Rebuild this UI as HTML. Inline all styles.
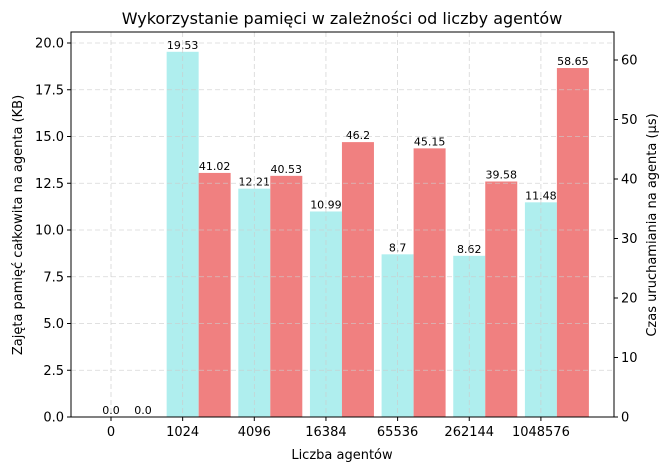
<!DOCTYPE html>
<html><head><meta charset="utf-8"><style>
body{margin:0;background:#fff;font-family:"Liberation Sans","DejaVu Sans",sans-serif}
</style></head><body>
<svg width="669" height="471" viewBox="0 0 669 471" xmlns="http://www.w3.org/2000/svg" font-family="DejaVu Sans, Liberation Sans, sans-serif">
<g id="bars"></g>
<g id="grid"></g>
<g id="axes"></g>
<text x="342" y="24" font-size="16" text-anchor="middle">Wykorzystanie pamięci w zależności od liczby agentów</text>
<text x="342" y="459" font-size="13" text-anchor="middle">Liczba agentów</text>
<text transform="translate(22,225) rotate(-90)" font-size="13" text-anchor="middle">Zajęta pamięć całkowita na agenta (KB)</text>
<text transform="translate(656,225) rotate(-90)" font-size="13" text-anchor="middle">Czas uruchamiania na agenta (µs)</text>
</svg>
<script>
const categories=["0","1024","4096","16384","65536","262144","1048576"];
const memory=[0.0,19.53,12.21,10.99,8.7,8.62,11.48];
const timeUs=[0.0,41.02,40.53,46.2,45.15,39.58,58.65];
const leftTicks=[0,2.5,5,7.5,10,12.5,15,17.5,20];
const rightTicks=[0,10,20,30,40,50,60];
const NS="http://www.w3.org/2000/svg";
const L=71,R=614,T=32,B=417;
const xPos=i=>111+i*71.65;
const yL=v=>B-v*18.7;
const yR=v=>B-v*5.95;
function mk(t,a,p){const e=document.createElementNS(NS,t);for(const k in a)e.setAttribute(k,a[k]);p.appendChild(e);return e;}
const bars=document.getElementById('bars'),grid=document.getElementById('grid'),axes=document.getElementById('axes');
categories.forEach((c,i)=>{
 const x=xPos(i);
 const b1=mk('rect',{x:x-16,y:yL(memory[i]),width:32,height:B-yL(memory[i]),fill:'#afeeee'},bars);
 
 
 const b2=mk('rect',{x:x+16,y:yR(timeUs[i]),width:32,height:B-yR(timeUs[i]),fill:'#f08080'},bars);
 
 
 const t1=mk('text',{x:x,y:yL(memory[i])-3,'font-size':11,'text-anchor':'middle'},bars);t1.textContent=memory[i].toFixed(memory[i]===0?1:undefined)==="0.0"?"0.0":String(memory[i]);
 
 
 const t2=mk('text',{x:x+32,y:yR(timeUs[i])-3,'font-size':11,'text-anchor':'middle'},bars);t2.textContent=timeUs[i]===0?"0.0":String(timeUs[i]);
 
 
 mk('line',{x1:x,x2:x,y1:T,y2:B,stroke:'#ccc','stroke-dasharray':'5,3','stroke-width':0.8,opacity:0.8},grid);
 mk('line',{x1:x,x2:x,y1:B,y2:B+4,stroke:'#000'},axes);
 const tl=mk('text',{x:x,y:B+19,'font-size':13,'text-anchor':'middle'},axes);tl.textContent=c;
 
 
});
leftTicks.forEach(v=>{const y=yL(v);
 mk('line',{x1:L,x2:R,y1:y,y2:y,stroke:'#ccc','stroke-dasharray':'5,3','stroke-width':0.8,opacity:0.8},grid);
 mk('line',{x1:L-4,x2:L,y1:y,y2:y,stroke:'#000'},axes);
 const t=mk('text',{x:L-7,y:y+4.5,'font-size':13,'text-anchor':'end'},axes);t.textContent=v.toFixed(1);
 
 
});
rightTicks.forEach(v=>{const y=yR(v);
 mk('line',{x1:R,x2:R+4,y1:y,y2:y,stroke:'#000'},axes);
 const t=mk('text',{x:R+7,y:y+4.5,'font-size':13},axes);t.textContent=v;
 
 
});
mk('rect',{x:L,y:T,width:R-L,height:B-T,fill:'none',stroke:'#000','stroke-width':1},axes);
</script>
</body></html>
